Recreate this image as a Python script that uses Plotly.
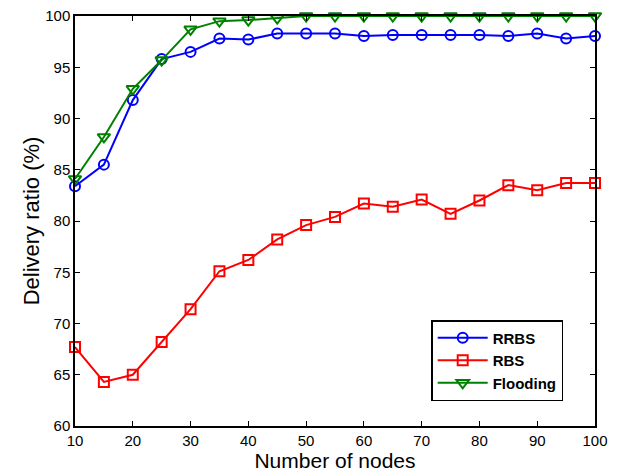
import plotly.graph_objects as go

nodes = [10, 15, 20, 25, 30, 35, 40, 45, 50, 55, 60, 65, 70, 75, 80, 85, 90, 95, 100]
rrbs = [83.4, 85.5, 91.8, 95.8, 96.5, 97.8, 97.7, 98.3, 98.3, 98.3, 98.05, 98.15, 98.15, 98.15, 98.15, 98.05, 98.3, 97.8, 98.05]
rbs = [67.7, 64.3, 65.0, 68.2, 71.4, 75.1, 76.2, 78.2, 79.6, 80.4, 81.7, 81.4, 82.1, 80.7, 82.0, 83.5, 83.0, 83.7, 83.7]
flooding = [84.1, 88.2, 92.9, 95.7, 98.7, 99.5, 99.6, 99.8, 100, 100, 100, 100, 100, 100, 100, 100, 100, 100, 100]

FONT = "Liberation Sans, Arial"

fig = go.Figure()
fig.add_trace(go.Scatter(x=nodes, y=rrbs, name="RRBS", mode="lines+markers",
                         line=dict(color="#0000FF", width=2),
                         marker=dict(symbol="circle-open", size=10, color="#0000FF", line=dict(width=2)),
                         cliponaxis=False))
fig.add_trace(go.Scatter(x=nodes, y=rbs, name="RBS", mode="lines+markers",
                         line=dict(color="#FF0000", width=2),
                         marker=dict(symbol="square-open", size=10, color="#FF0000", line=dict(width=2)),
                         cliponaxis=False))
fig.add_trace(go.Scatter(x=nodes, y=flooding, name="Flooding", mode="lines+markers",
                         line=dict(color="#008000", width=2),
                         marker=dict(symbol="triangle-down-open", size=11, color="#008000", line=dict(width=2)),
                         cliponaxis=False))

axis_common = dict(showline=True, linecolor="black", linewidth=1.5, mirror="ticks",
                   ticks="inside", ticklen=5, tickcolor="black", showgrid=False, zeroline=False,
                   automargin=False, ticklabeloverflow="allow",
                   tickfont=dict(family=FONT, size=15, color="black"))
fig.update_xaxes(range=[10, 100], dtick=10, tick0=10,
                 title=dict(text="Number of nodes", font=dict(family=FONT, size=21, color="black"), standoff=3),
                 **axis_common)
fig.update_yaxes(range=[60, 100], dtick=5, tick0=60,
                 title=dict(text="Delivery ratio (%)", font=dict(family=FONT, size=22, color="black"), standoff=0),
                 **axis_common)

# the page body adds an 8px offset, so the figure is 8px smaller than the window
fig.update_layout(
    width=611, height=464,
    margin=dict(l=67, r=24, t=8, b=46),
    paper_bgcolor="white", plot_bgcolor="white",
    showlegend=True,
    legend=dict(x=0.685, y=0.2585, xanchor="left", yanchor="top",
                bordercolor="black", borderwidth=1.5, bgcolor="white",
                font=dict(family=FONT, size=15, color="black", weight="bold"),
                tracegroupgap=0, itemwidth=50),
)

fig.write_html("out.html")
